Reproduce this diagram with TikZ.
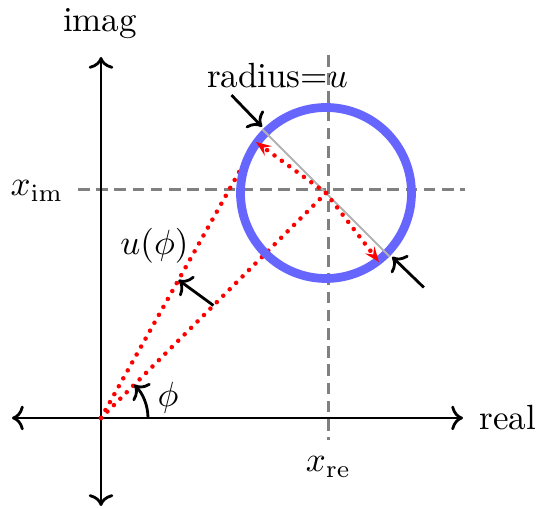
\documentclass[tikz,border=0pt]{standalone}
\usetikzlibrary{arrows.meta,calc}
\begin{document}
\begin{tikzpicture}[x=0.2857pt,y=0.2857pt,
  axisline/.style={thick,<->},
  marker/.style={thick,->},
  reddots/.style={red,line width=1.3pt,line cap=round,dash pattern=on 0pt off 2.6pt},
  redarrow/.style={reddots,-{Stealth[length=4.3pt,width=3.3pt,inset=1.6pt]}},
  crosshair/.style={gray,line width=0.85pt,dash pattern=on 3.3pt off 1.9pt},
  ring/.style={draw=blue!60,line width=2.5pt},
  diam/.style={black!30,line width=0.6pt},
  lbl/.style={inner sep=0pt}]
\useasboundingbox (0,0) rectangle (538,509);
% key points
\coordinate (O) at (101,91);
\coordinate (C) at (326,316);
\coordinate (P) at (256,367);
\coordinate (Q) at (379,247);
\coordinate (L) at (12,91);
\coordinate (R) at (463,91);
\coordinate (B) at (101,3);
\coordinate (T) at (101,452);
\coordinate (Hl) at (78,319);
\coordinate (Hr) at (465,319);
\coordinate (Vt) at (328.5,454);
\coordinate (Vb) at (328.5,69);
\coordinate (M1) at ($(O)!0.5!(C)$);
\coordinate (M2) at ($(O)!0.5!(P)$);
\coordinate (G1) at ($(C)+(135:90)$);
\coordinate (G2) at ($(C)+(-45:90)$);
\coordinate (E1) at ($(C)+(134:136)$);
\coordinate (F1) at ($(C)+(134:92)$);
\coordinate (E2) at ($(C)+(-44:136)$);
\coordinate (F2) at ($(C)+(-44:92)$);
\coordinate (S) at ($(O)+(47,0)$);
% crosshair
\draw[crosshair] (Hl) -- (Hr);
\draw[crosshair] (Vt) -- (Vb);
% axes
\draw[axisline] (L) -- (R);
\draw[axisline] (B) -- (T);
% red dotted rays
\draw[reddots] (O) -- (C);
\draw[reddots] (O) -- (P);
% circle
\draw[ring] (C) circle[radius=85.5];
\draw[diam] (G1) -- (G2);
% red arrows
\draw[redarrow] (C) -- (P);
\draw[redarrow] (C) -- (Q);
% black markers
\draw[marker] (E1) -- (F1);
\draw[marker] (E2) -- (F2);
\draw[marker] (M1) -- (M2);
\draw[marker] (S) arc[start angle=0,end angle=45,radius=47];
% labels
\node[lbl,anchor=base] (imag) at (100,477) {imag};
\node[lbl,anchor=base west] (real) at (479,79) {real};
\node[lbl,anchor=base east] (xim) at (64,313) {$x_{\mathrm{im}}$};
\node[lbl,anchor=base] (xre) at (328.5,37) {$x_{\mathrm{re}}$};
\node[lbl,anchor=base] (rad) at (277.5,421) {radius=$u$};
\node[lbl,anchor=base] (uphi) at (154.5,254) {$u(\phi)$};
\node[lbl] (phi) at (168,111) {$\phi$};
\end{tikzpicture}
\end{document}
